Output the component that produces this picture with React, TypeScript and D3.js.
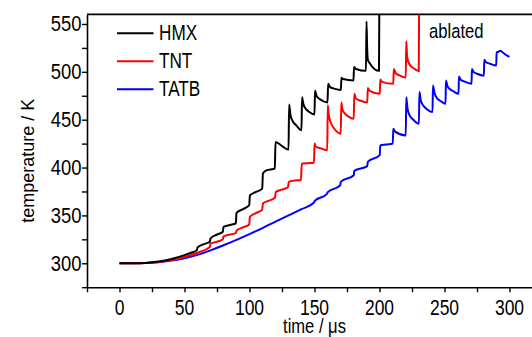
import React, { useEffect, useRef } from 'react';
import * as d3 from 'd3';

// time (µs), temperature (K)
const hmx: [number, number][] = [
  [0, 300], [10, 300], [20, 300.4], [30, 301.8], [40, 304.5], [50, 308.5], [55, 311], [59.5, 313.5],
  [60, 316.5], [65, 320], [69.5, 322.5], [70, 326], [75, 330], [79.5, 333], [80, 338], [85, 340],
  [89.5, 341.7], [90, 352.7], [95, 356.5], [99.8, 360.7], [100.3, 371], [105, 374.5], [109.8, 378],
  [110.3, 393.8], [113, 397], [119.5, 399], [120, 426.7], [125, 422.5], [130, 418.7], [130.5, 466],
  [131.5, 455], [133, 449], [136, 444], [140, 439], [140.4, 473.5], [141.5, 466], [143.5, 461],
  [146, 458], [150, 455.5], [150.4, 480.5], [151.5, 475], [154, 471.5], [160, 468], [160.5, 487.5],
  [162, 484], [165, 482.5], [170.3, 481], [170.7, 493.7], [172, 492.5], [180, 491], [180.4, 505],
  [182, 503], [189.6, 501], [190, 552.7], [190.5, 525], [191, 513], [193, 508], [199.6, 501], [200, 600],
];

const tnt: [number, number][] = [
  [0, 300], [10, 300], [20, 300.3], [30, 301.3], [40, 303.3], [50, 306.5], [60, 311], [69.5, 317],
  [70, 320.5], [75, 322.5], [79.5, 325], [80, 328], [85, 330], [89.5, 331.5], [90, 334], [95, 337.5],
  [99.8, 340.5], [100.3, 348.5], [105, 352.5], [109.8, 356], [110.3, 362.5], [115, 365.5], [119.6, 368.5],
  [120.2, 374.5], [125, 377], [129.6, 379.5], [130.2, 385], [135, 386.5], [139.6, 387], [140.2, 404],
  [145, 404.5], [149.6, 405], [150, 425], [151, 422], [155, 420], [159.8, 418], [160.2, 465], [161, 455],
  [162.5, 447], [165, 441], [170.2, 435.4], [170.6, 468], [171.5, 461], [173, 457], [176, 453.5],
  [180.2, 451], [180.6, 477], [182, 472], [185, 470], [190.6, 468], [191, 483], [192.5, 480], [200.2, 477],
  [200.6, 492], [202, 489.5], [210.6, 487.5], [211, 503], [212.5, 498.5], [215, 496.5], [220.2, 494],
  [220.6, 532], [221.3, 515], [223, 508], [226, 504], [230.2, 500.6], [230.6, 600],
];

const tatb: [number, number][] = [
  [0, 300], [10, 300], [20, 300.2], [30, 301], [40, 302.8], [50, 305.3], [60, 308.8], [70, 313.5],
  [80, 318.8], [90, 324.5], [100, 330.5], [110, 336.8], [120, 343.5], [130, 350], [140, 356.5],
  [149.6, 363.5], [150, 365], [159.6, 372.5], [160, 374], [169.8, 381.5], [170.2, 385], [180.2, 392],
  [180.6, 396.5], [190.6, 401.5], [191, 406], [200.2, 413], [200.6, 423], [205, 424], [210.2, 425],
  [210.6, 440.6], [212, 437.5], [220.2, 433.6], [220.6, 473.5], [221.5, 462], [223, 455], [226, 450],
  [230.3, 445.8], [230.7, 478.8], [231.8, 470], [233.5, 465], [236, 461.5], [240.8, 458], [241.1, 485.7],
  [242.3, 478], [244, 473], [247, 469.5], [250.8, 466.7], [251.1, 491], [252.3, 485], [254, 482],
  [257, 479.5], [260.8, 477], [261.1, 495], [262.3, 492], [265, 490], [270.8, 487.5], [271.1, 503],
  [272.3, 500], [275, 498], [280.3, 496], [280.6, 512.5], [282, 510], [285, 508.5], [289.8, 506.6],
  [290.1, 520.4], [291.5, 521], [293, 522], [295, 520], [297.5, 517.5], [300, 515.5],
];

const seriesNames = ['HMX', 'TNT', 'TATB'];
const seriesColors = ['#000000', '#ff0000', '#0000ff'];
const xTicks = [-25, 0, 25, 50, 75, 100, 125, 150, 175, 200, 225, 250, 275, 300];
const yTicks = [275, 300, 325, 350, 375, 400, 425, 450, 475, 500, 525, 550];
const xLabels = [0, 50, 100, 150, 200, 250, 300];
const yLabels = [300, 350, 400, 450, 500, 550];

export default function App() {
  const ref = useRef<SVGSVGElement>(null);

  useEffect(() => {
    const width = 532;
    const height = 337;
    const font = '"Liberation Sans", Arial, sans-serif';
    const svg = d3.select(ref.current);
    svg.selectAll('*').remove();
    svg.attr('width', width).attr('height', height);

    const x = d3.scaleLinear().domain([-25, 320]).range([87, 535.5]);
    const y = d3.scaleLinear().domain([275, 560]).range([287.2, 14.4]);

    // stretched text, like the original export
    const label = (tx: number, ty: number, s: string, size: number, sx: number, sy: number, anchor = 'start', rot = 0) =>
      svg.append('text')
        .attr('transform', `translate(${tx},${ty}) rotate(${rot}) scale(${sx},${sy})`)
        .attr('text-anchor', anchor)
        .attr('font-family', font)
        .attr('font-size', size)
        .attr('fill', '#000')
        .text(s);

    svg.append('defs').append('clipPath').attr('id', 'plotclip')
      .append('rect')
      .attr('x', x(-25)).attr('y', y(560))
      .attr('width', x(320) - x(-25)).attr('height', y(275) - y(560));

    // frame
    svg.append('line')
      .attr('x1', x(-25)).attr('x2', x(320))
      .attr('y1', y(560)).attr('y2', y(560))
      .attr('stroke', '#000').attr('stroke-width', 1.6);
    svg.append('line')
      .attr('x1', x(320)).attr('x2', x(320))
      .attr('y1', y(560)).attr('y2', y(275))
      .attr('stroke', '#000').attr('stroke-width', 1.6);

    const xAxis = svg.append('g')
      .attr('transform', `translate(0,${y(275)})`)
      .call(d3.axisBottom(x).tickValues(xTicks).tickSize(5).tickSizeOuter(0).tickFormat(() => ''));
    xAxis.select('.domain').attr('stroke-width', 1.6);
    xAxis.selectAll('.tick line').attr('stroke-width', 1.4);

    const yAxis = svg.append('g')
      .attr('transform', `translate(${x(-25)},0)`)
      .call(d3.axisLeft(y).tickValues(yTicks).tickSize(5).tickSizeOuter(0).tickFormat(() => ''));
    yAxis.select('.domain').attr('stroke-width', 1.6);
    yAxis.selectAll('.tick line').attr('stroke-width', 1.4);

    xLabels.forEach((v) => label(x(v), 314.5, String(v), 19, 0.92, 1.2, 'middle'));
    yLabels.forEach((v) => label(81.5, y(v) + 7.5, String(v), 19, 0.97, 1.2, 'end'));

    label(x(150), 333, 'time / μs', 18, 0.92, 1.1, 'middle');
    label(34, (y(275) + y(560)) / 2 + 10, 'temperature / K', 18, 1, 1.05, 'middle', -90);

    const line = d3.line<[number, number]>()
      .x((d) => x(d[0]))
      .y((d) => y(d[1]))
      .curve(d3.curveMonotoneX);

    const plot = svg.append('g').attr('clip-path', 'url(#plotclip)');
    [tatb, tnt, hmx].forEach((data, i) => {
      plot.append('path')
        .datum(data)
        .attr('d', line)
        .attr('fill', 'none')
        .attr('stroke', seriesColors[2 - i])
        .attr('stroke-width', 2)
        .attr('stroke-linejoin', 'round');
    });

    seriesNames.forEach((name, i) => {
      const ly = 33.3 + i * 28;
      svg.append('line')
        .attr('x1', 117).attr('x2', 153.5)
        .attr('y1', ly).attr('y2', ly)
        .attr('stroke', seriesColors[i]).attr('stroke-width', 2);
      label(159, ly + 7, name, 19.5, 0.88, 1.12);
    });

    label(429, 38, 'ablated', 18.5, 0.9, 1.12);
  }, []);

  return (
    <svg ref={ref} style={{ position: 'absolute', left: 0, top: 0 }} />
  );
}
